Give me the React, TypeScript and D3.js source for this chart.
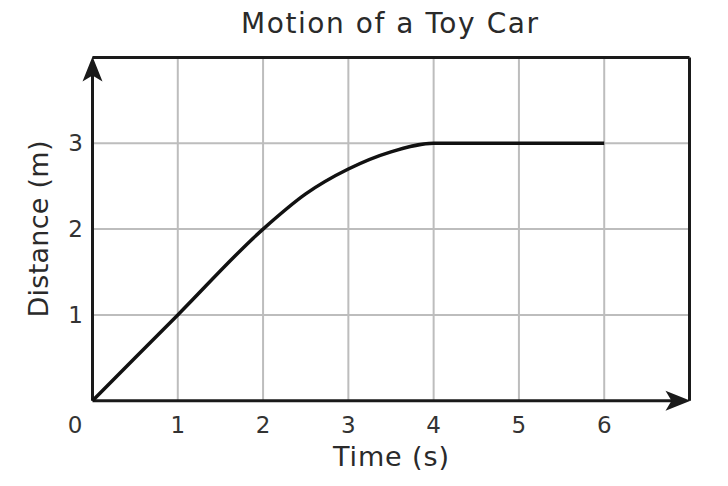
import React from "react";
import * as d3 from "d3";

const title = "Motion of a Toy Car";
const xTitle = "Time (s)";
const yTitle = "Distance (m)";
const xTicks = [1, 2, 3, 4, 5, 6];
const yTicks = [1, 2, 3];
const times = [0, 1, 2, 2.5, 3, 3.5, 4, 5, 6];
const distances = [0, 1, 2, 2.41, 2.7, 2.9, 3, 3, 3];

const W = 728, H = 486;
const left = 92.5, right = 689.5, top = 57.5, bottom = 400.7;
const font = "'DejaVu Sans', Verdana, sans-serif";

export default function App() {
  const x = d3.scaleLinear().domain([0, 7]).range([left, right]);
  const y = d3.scaleLinear().domain([0, 4]).range([bottom, top]);
  const pts = times.map((t, i) => [t, distances[i]] as [number, number]);
  const line = d3.line<[number, number]>()
    .x(d => x(d[0])).y(d => y(d[1]))
    .curve(d3.curveMonotoneX)(pts) || "";
  const ax = "#1a1a1a";
  const grid = "#bdbdbd";
  return (
    <svg width={W} height={H} style={{ position: "absolute", left: 0, top: 0, background: "#fff" }}>
      <rect x={0} y={0} width={W} height={H} fill="#fff" />
      {xTicks.map(t => (
        <line key={"gx" + t} x1={x(t)} x2={x(t)} y1={top} y2={bottom} stroke={grid} strokeWidth={2} />
      ))}
      {yTicks.map(t => (
        <line key={"gy" + t} x1={left} x2={right} y1={y(t)} y2={y(t)} stroke={grid} strokeWidth={2} />
      ))}
      {/* border */}
      <line x1={left} x2={right} y1={top} y2={top} stroke={ax} strokeWidth={3} />
      <line x1={right} x2={right} y1={top} y2={bottom} stroke={ax} strokeWidth={3} />
      {/* axes */}
      <line x1={left} x2={right - 10} y1={bottom} y2={bottom} stroke={ax} strokeWidth={3} />
      <line x1={left} x2={left} y1={bottom} y2={top + 10} stroke={ax} strokeWidth={3} />
      <path d={`M${right + 1},${bottom} L${right - 24},${bottom - 10} L${right - 18},${bottom} L${right - 24},${bottom + 10} Z`} fill={ax} />
      <path d={`M${left},${top - 1} L${left - 10},${top + 24} L${left},${top + 18} L${left + 10},${top + 24} Z`} fill={ax} />
      {/* data */}
      <path d={line} fill="none" stroke="#111" strokeWidth={3.5} strokeLinejoin="round" strokeLinecap="butt" />
      {/* tick labels */}
      <text x={75} y={433} textAnchor="middle" fontFamily={font} fontSize={23} fill="#333">0</text>
      {xTicks.map(t => (
        <text key={"tx" + t} x={x(t)} y={433} textAnchor="middle" fontFamily={font} fontSize={23} fill="#333">{t}</text>
      ))}
      {yTicks.map(t => (
        <text key={"ty" + t} x={83} y={y(t) + 8} textAnchor="end" fontFamily={font} fontSize={23} fill="#333">{t}</text>
      ))}
      <text x={389.5} y={33} textAnchor="middle" fontFamily={font} fontSize={28} fill="#2a2a2a" textLength={297} lengthAdjust="spacing">{title}</text>
      <text x={391} y={466} textAnchor="middle" fontFamily={font} fontSize={27} fill="#2a2a2a" textLength={116} lengthAdjust="spacing">{xTitle}</text>
      <text transform={`translate(48,229) rotate(-90)`} textAnchor="middle" fontFamily={font} fontSize={27} fill="#2a2a2a" textLength={177} lengthAdjust="spacing">{yTitle}</text>
    </svg>
  );
}
